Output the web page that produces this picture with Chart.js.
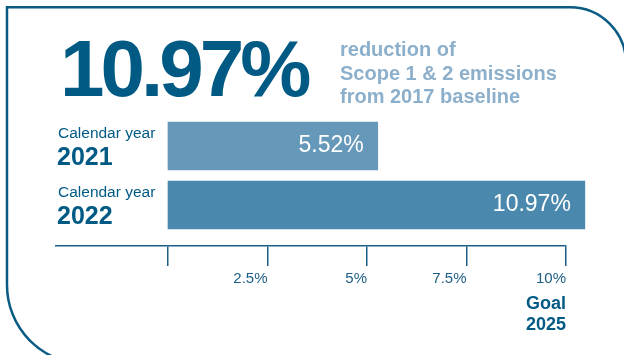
<!DOCTYPE html>
<html>
<head>
<meta charset="utf-8">
<title>Scope 1 &amp; 2 emissions reduction</title>
<script src="https://cdn.jsdelivr.net/npm/chart.js@4.4.1/dist/chart.umd.min.js"></script>
<style>
    html, body { margin: 0; padding: 0; background: #fff; overflow: hidden; }
    #box { position: relative; width: 624px; height: 355px; }
</style>
</head>
<body>
<div id="box"><canvas id="reductionChart"></canvas></div>
<script>
/*************************************************
 * Scope 1 & 2 reduction vs 2017 baseline        *
 *************************************************/
const years = ['2021', '2022'];
const reduction = [5.52, 10.97];          // % below 2017 baseline
const tickValues = [0, 2.5, 5, 7.5, 10];  // axis ticks (%)
const goalValue = 10;
const goalYear = '2025';
const headlineLines = ['reduction of', 'Scope 1 & 2 emissions', 'from 2017 baseline'];

const navy = '#005a84';
const axisBlue = '#1d5d86';
const softBlue = '#8cb0cc';
const barColors = ['#6698ba', '#4a89ad'];
const fontFamily = '"Liberation Sans", Arial, sans-serif';

const ctx = document.getElementById('reductionChart').getContext('2d');

// rounded card frame behind everything
const cardOutline = {
    id: 'cardOutline',
    beforeDraw(chart) {
        const c = chart.ctx;
        c.save();
        c.strokeStyle = '#0a5b84';
        c.lineWidth = 2.5;
        c.beginPath();
        c.moveTo(200, 364);
        c.lineTo(86, 364);
        c.arc(86, 285, 79, Math.PI / 2, Math.PI);
        c.lineTo(7, 7.25);
        c.lineTo(570, 7.25);
        c.arc(570, 63.25, 56, -Math.PI / 2, 0);
        c.lineTo(626, 370);
        c.stroke();
        c.restore();
    }
};

// big headline number, row captions, bar values and goal note
const textLayer = {
    id: 'textLayer',
    afterDraw(chart) {
        const c = chart.ctx;
        const yScale = chart.scales.y;
        const xScale = chart.scales.x;
        c.save();

        c.fillStyle = navy;
        c.textAlign = 'left';
        c.textBaseline = 'alphabetic';
        c.font = 'bold 80px ' + fontFamily;
        c.letterSpacing = '-4px';
        c.fillText(reduction[reduction.length - 1] + '%', 60, 96);
        c.letterSpacing = '0px';

        c.fillStyle = softBlue;
        c.font = 'bold 20px ' + fontFamily;
        headlineLines.forEach((line, i) => {
            c.fillText(line, 340, 56 + i * 23.5);
        });

        years.forEach((year, i) => {
            const yc = yScale.getPixelForValue(i);
            c.fillStyle = navy;
            c.font = '15.5px ' + fontFamily;
            c.fillText('Calendar year', 58, yc - 8);
            c.font = 'bold 25px ' + fontFamily;
            c.fillText(year, 57, yc + 19);
        });

        const bars = chart.getDatasetMeta(0).data;
        c.fillStyle = '#ffffff';
        c.font = '23px ' + fontFamily;
        c.textAlign = 'right';
        c.textBaseline = 'middle';
        bars.forEach((bar, i) => {
            c.fillText(reduction[i].toFixed(2) + '%', bar.x - 14, bar.y);
        });

        const gx = xScale.getPixelForValue(goalValue);
        c.fillStyle = navy;
        c.font = 'bold 18px ' + fontFamily;
        c.textBaseline = 'alphabetic';
        c.fillText('Goal', gx, 309);
        c.fillText(goalYear, gx, 330);

        c.restore();
    }
};

const reductionChart = new Chart(ctx, {
    type: 'bar',
    data: {
        labels: years,
        datasets: [{
            label: 'Reduction (%)',
            data: reduction.map((v, i) => ({ x: v, y: i })),
            xAxisID: 'xBar',
            backgroundColor: barColors,
            borderWidth: 0,
            barThickness: 48,
            clip: false
        }]
    },
    options: {
        indexAxis: 'y',
        responsive: true,
        maintainAspectRatio: false,
        animation: false,
        layout: {
            padding: { left: 56, right: 58, top: 116.5, bottom: 63 }
        },
        scales: {
            y: {
                type: 'linear',
                display: false,
                offset: false,
                reverse: true,
                min: -0.5,
                max: 1.695
            },
            xBar: {
                type: 'linear',
                display: false,
                min: -2.947,
                max: 10.474
            },
            x: {
                type: 'linear',
                position: 'bottom',
                min: -2.814,
                max: 10,
                afterBuildTicks: (scale) => {
                    scale.ticks = tickValues.map(v => ({ value: v }));
                },
                ticks: {
                    align: 'end',
                    padding: 4,
                    color: axisBlue,
                    font: { family: fontFamily, size: 15 },
                    callback: (v) => v === 0 ? '' : v + '%'
                },
                grid: {
                    drawOnChartArea: false,
                    drawTicks: true,
                    tickLength: 20,
                    color: axisBlue,
                    lineWidth: 1.5
                },
                border: {
                    display: true,
                    color: axisBlue,
                    width: 1.5
                }
            }
        },
        plugins: {
            legend: { display: false },
            tooltip: { enabled: false },
            title: { display: false }
        }
    },
    plugins: [cardOutline, textLayer]
});
</script>
</body>
</html>
